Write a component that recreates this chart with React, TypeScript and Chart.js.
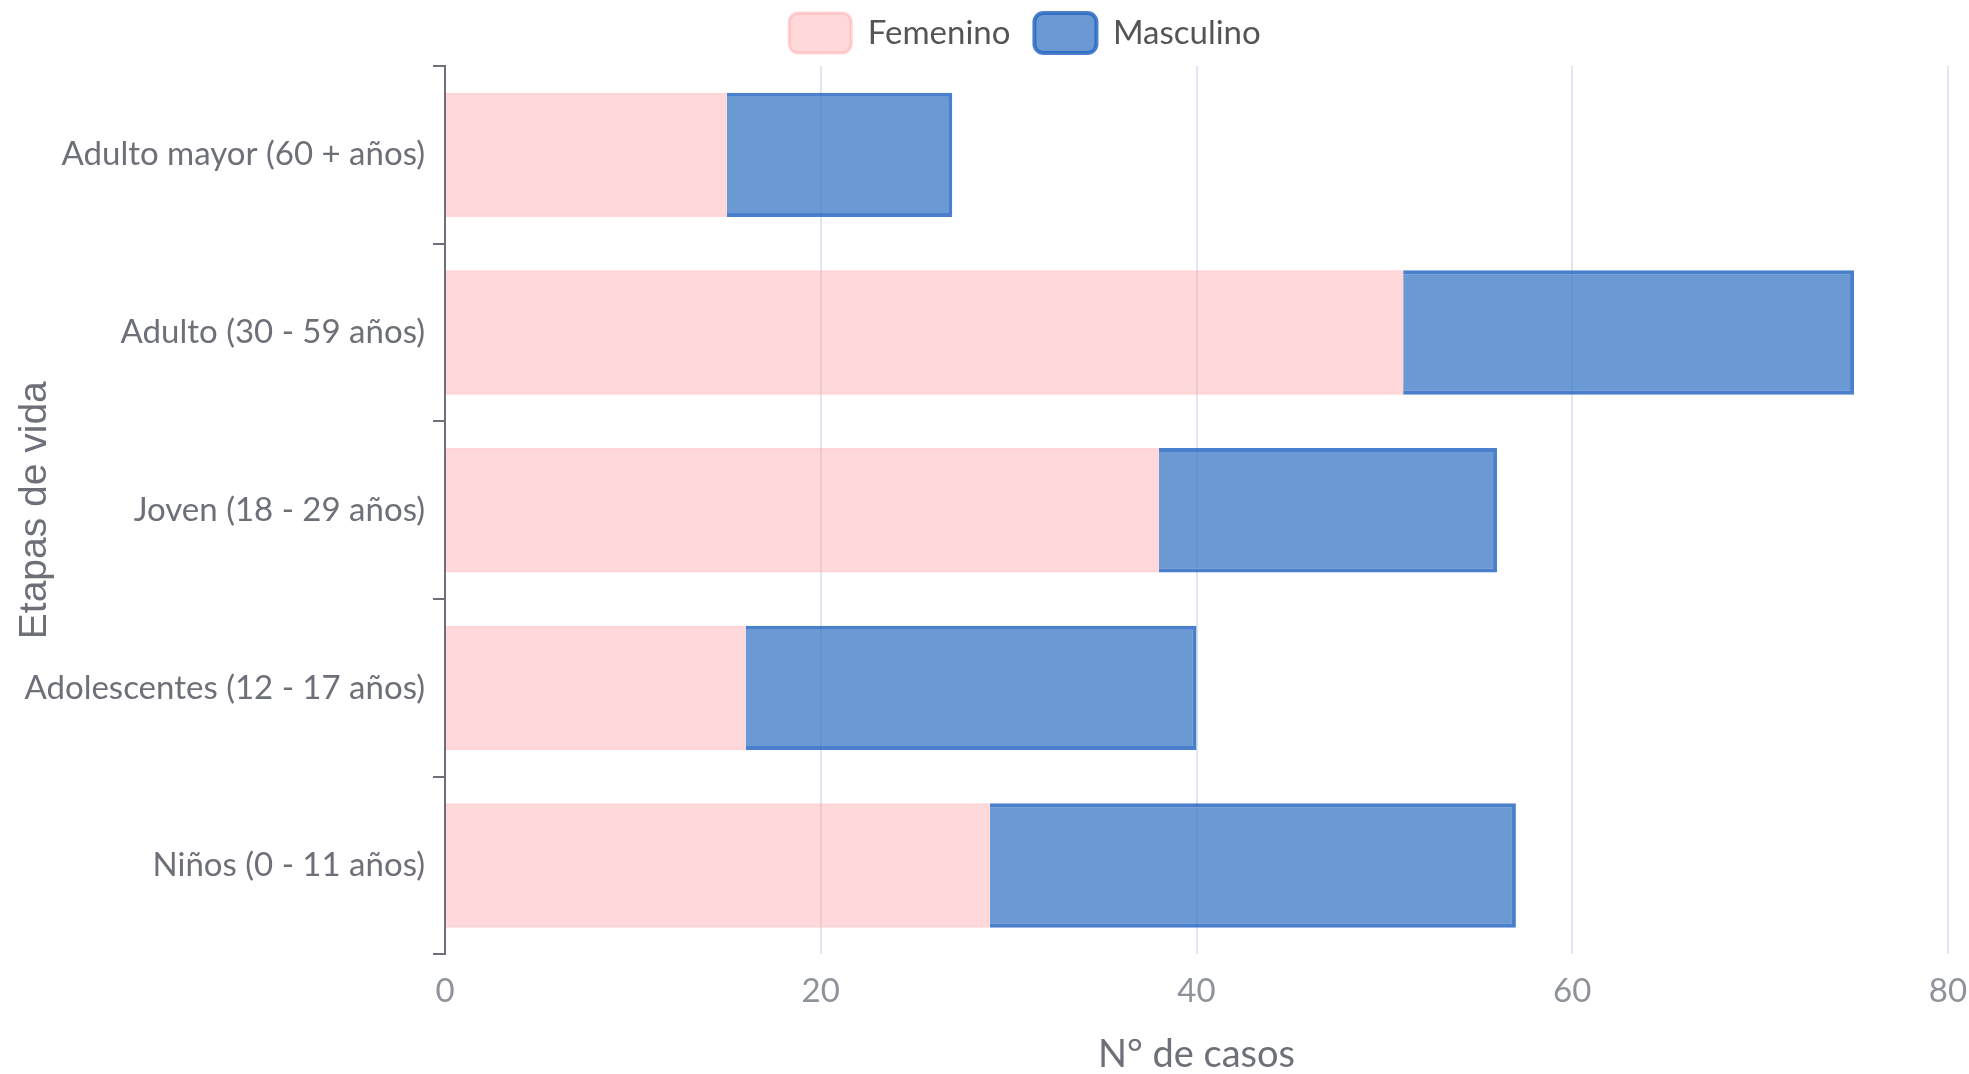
import React, { useEffect, useRef } from "react";
import { Chart, registerables } from "chart.js";

Chart.register(...registerables);

const categories = [
  "Adulto mayor (60 + años)",
  "Adulto (30 - 59 años)",
  "Joven (18 - 29 años)",
  "Adolescentes (12 - 17 años)",
  "Niños (0 - 11 años)",
];
const femenino = [15, 51, 38, 16, 29];
const masculino = [12, 24, 18, 24, 28];
const seriesNames = ["Femenino", "Masculino"];
const xTitle = "N° de casos";
const yTitle = "Etapas de vida";

const legendTweak = {
  id: "legendTweak",
  beforeLayout(chart: any) {
    const lg = chart.legend;
    if (lg && !lg.__wrapped) {
      const orig = lg.fit.bind(lg);
      lg.fit = function () {
        orig();
        this.height -= 8;
      };
      lg.__wrapped = true;
    }
  },
  afterLayout(chart: any) {
    const lg = chart.legend;
    if (lg) {
      lg.left += 51;
      lg.right += 51;
      lg.top -= 11;
      lg.bottom -= 11;
    }
  },
};

export default function App() {
  const ref = useRef<HTMLCanvasElement | null>(null);
  useEffect(() => {
    document.body.style.margin = "0";
    if (!ref.current) return;
    const chart = new Chart(ref.current, {
      type: "bar",
      data: {
        labels: categories,
        datasets: [
          {
            label: seriesNames[0],
            data: femenino,
            backgroundColor: "rgba(255,160,162,0.4)",
            borderColor: "rgba(255,155,160,0.42)",
            borderWidth: 3,
          },
          {
            label: seriesNames[1],
            data: masculino,
            backgroundColor: "rgba(58,119,198,0.75)",
            borderColor: "rgba(42,106,194,0.85)",
            borderWidth: 4,
          },
        ],
      },
      plugins: [legendTweak],
      options: {
        indexAxis: "y",
        animation: false,
        responsive: true,
        maintainAspectRatio: false,
        layout: { padding: { left: 0, right: 21, top: 0, bottom: 0 } },
        datasets: {
          bar: { categoryPercentage: 0.7, barPercentage: 1 },
        },
        plugins: {
          tooltip: { enabled: false },
          legend: {
            position: "top",
            align: "center",
            labels: {
              boxWidth: 62,
              boxHeight: 40,
              padding: 24,
              useBorderRadius: true,
              borderRadius: 9,
              color: "#555555",
              font: { family: "Lato", size: 33 },
            },
          },
        },
        scales: {
          x: {
            stacked: true,
            min: 0,
            max: 80,
            afterFit: (s: any) => {
              s.paddingRight = 0;
            },
            ticks: {
              stepSize: 20,
              padding: 17,
              color: "#8E929A",
              font: { family: "Lato", size: 33 },
            },
            grid: { color: "#E0E6F1", drawTicks: false, lineWidth: 2 },
            border: { display: false },
            title: {
              display: true,
              text: xTitle,
              color: "#6E7079",
              font: { family: "Lato", size: 38, lineHeight: 1 },
              padding: { top: 8, bottom: 0 },
            },
          },
          y: {
            stacked: true,
            offset: true,
            afterFit: (s: any) => {
              s.width = 445;
            },
            grid: {
              drawOnChartArea: false,
              drawTicks: true,
              tickLength: 12,
              color: "#6E7079",
              lineWidth: 2,
              offset: true,
            },
            border: { display: true, color: "#6E7079", width: 2 },
            ticks: {
              padding: 8,
              color: "#6E7079",
              font: { family: "Lato", size: 33 },
            },
            title: {
              display: true,
              text: yTitle,
              color: "#6E7079",
              font: { family: "Liberation Sans", size: 39 },
              padding: { top: 12, bottom: 0 },
            },
          },
        },
      },
    } as any);
    return () => chart.destroy();
  }, []);
  return (
    <div style={{ width: "1969px", height: "1074px", position: "relative" }}>
      <canvas ref={ref} />
    </div>
  );
}
